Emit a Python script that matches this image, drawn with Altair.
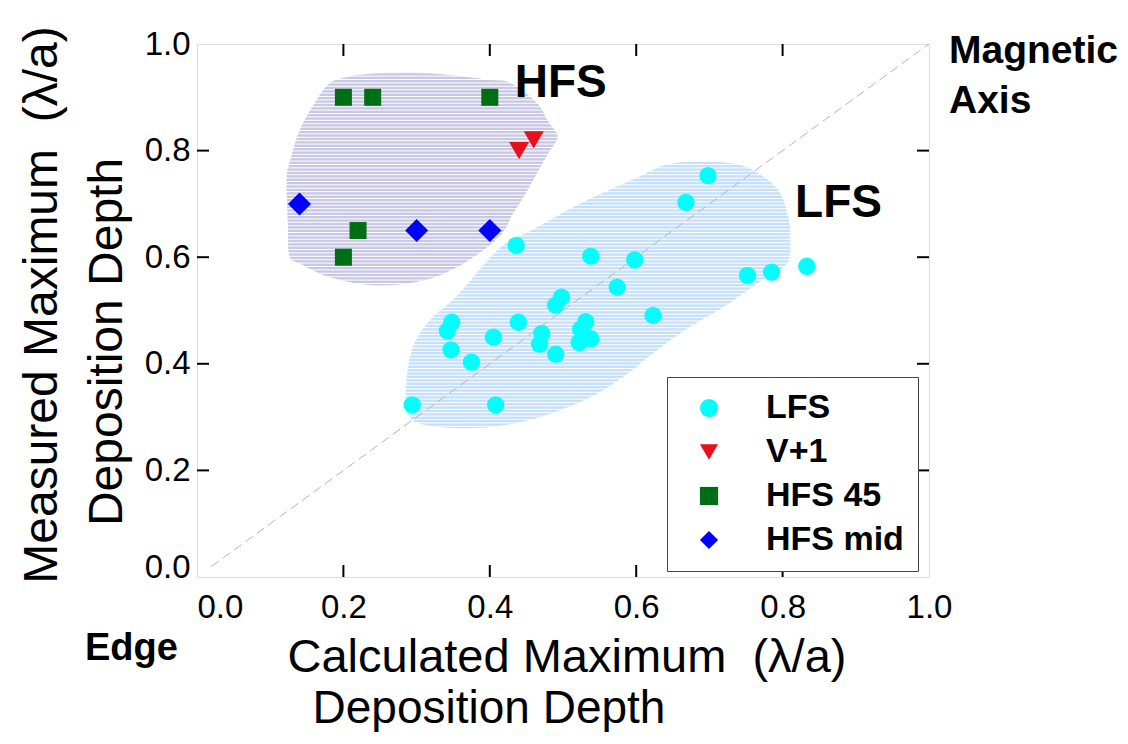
import altair as alt
import pandas as pd

W, H = 732, 533
FONT = "Liberation Sans"

# ---- data series ----
lfs_x = [0.698, 0.668, 0.436, 0.538, 0.598, 0.752, 0.785, 0.833, 0.574, 0.498,
         0.490, 0.623, 0.348, 0.342, 0.439, 0.531, 0.524, 0.405, 0.471, 0.468,
         0.538, 0.522, 0.347, 0.490, 0.375, 0.294, 0.408]
lfs_y = [0.753, 0.703, 0.622, 0.602, 0.595, 0.566, 0.572, 0.583, 0.544, 0.525,
         0.510, 0.491, 0.478, 0.462, 0.478, 0.479, 0.465, 0.450, 0.457, 0.437,
         0.447, 0.440, 0.426, 0.418, 0.403, 0.323, 0.323]
v1_x = [0.44, 0.46]
v1_y = [0.80, 0.82]
hfs45_x = [0.20, 0.24, 0.40, 0.22, 0.20]
hfs45_y = [0.90, 0.90, 0.90, 0.65, 0.60]
hfsmid_x = [0.14, 0.30, 0.40]
hfsmid_y = [0.70, 0.65, 0.65]

series = ["LFS", "V+1", "HFS 45", "HFS mid"]
colors = ["#00ffff", "#e8101c", "#006e14", "#0000ff"]
shapes = ["circle", "triangle-down", "square", "diamond"]
sizes = [300, 400, 289, 529]

# ---- shaded regions (outline in data units) ----
hfs_bx = [0.191, 0.227, 0.300, 0.400, 0.428, 0.464, 0.478, 0.491, 0.491, 0.482,
          0.469, 0.446, 0.430, 0.418, 0.395, 0.355, 0.309, 0.245, 0.182, 0.141,
          0.127, 0.125, 0.123, 0.127, 0.141, 0.164, 0.177]
hfs_by = [0.932, 0.942, 0.946, 0.932, 0.926, 0.889, 0.857, 0.832, 0.820, 0.801,
          0.770, 0.714, 0.680, 0.648, 0.618, 0.582, 0.557, 0.548, 0.563, 0.589,
          0.601, 0.651, 0.745, 0.776, 0.839, 0.895, 0.920]
lfs_bx = [0.650, 0.732, 0.773, 0.796, 0.808, 0.810, 0.808, 0.796, 0.765, 0.719,
          0.673, 0.628, 0.582, 0.537, 0.469, 0.400, 0.332, 0.295, 0.286, 0.289,
          0.300, 0.323, 0.355, 0.414, 0.459, 0.527, 0.596]
lfs_by = [0.775, 0.775, 0.751, 0.720, 0.670, 0.626, 0.595, 0.576, 0.551, 0.507,
          0.470, 0.426, 0.376, 0.338, 0.301, 0.282, 0.282, 0.295, 0.326, 0.395,
          0.445, 0.488, 0.526, 0.617, 0.651, 0.702, 0.745]
hfs_fill = "#c8c8e4"
lfs_fill = "#c6e0f9"

axis_vals = [0.0, 0.2, 0.4, 0.6, 0.8, 1.0]
inner_ticks = [0.2, 0.4, 0.6, 0.8]
diag_x = [0.02, 1.0]
diag_y = [0.02, 1.0]

# region labels (data units)
lab_text = ["HFS", "LFS"]
lab_x = [0.434, 0.817]
lab_y = [0.900, 0.675]

# ---- build tables ----
pts = pd.concat([
    pd.DataFrame({"x": lfs_x, "y": lfs_y, "series": "LFS"}),
    pd.DataFrame({"x": v1_x, "y": v1_y, "series": "V+1"}),
    pd.DataFrame({"x": hfs45_x, "y": hfs45_y, "series": "HFS 45"}),
    pd.DataFrame({"x": hfsmid_x, "y": hfsmid_y, "series": "HFS mid"}),
], ignore_index=True)

xs = alt.Scale(domain=[0, 1], nice=False, zero=False)
ys = alt.Scale(domain=[0, 1], nice=False, zero=False)

x_axis = alt.Axis(values=axis_vals, format=".1f", ticks=False, domain=False, grid=False,
                  title=None, labelFont=FONT, labelFontSize=33, labelColor="black",
                  labelPadding=14, labelOverlap=False,
                  labelAlign={"condition": {"test": "datum.value == 0", "value": "left"},
                              "value": "center"})
y_axis = alt.Axis(values=axis_vals, format=".1f", ticks=False, domain=False, grid=False,
                  title=None, labelFont=FONT, labelFontSize=33, labelColor="black",
                  labelPadding=7, labelOverlap=False,
                  labelBaseline={"condition": {"test": "datum.value == 0", "value": "alphabetic"},
                                 "value": "middle"})


def X(field):
    return alt.X(field, scale=xs, axis=x_axis, title=None)


def Y(field):
    return alt.Y(field, scale=ys, axis=y_axis, title=None)


def blob(bx, by, color):
    df = pd.DataFrame({"x": bx, "y": by, "i": range(len(bx))})
    return alt.Chart(df).mark_line(interpolate="cardinal-closed", color=color, fill=color,
                                   strokeWidth=1).encode(
        x=X("x:Q"), y=Y("y:Q"), order="i:Q")


stripes = alt.Chart(alt.sequence(0.27, 0.955, 3.4 / H, as_="s")).mark_rule(
    color="white", strokeWidth=1).encode(
    y=Y("s:Q"), x=alt.value(0.10 * W), x2=alt.value(0.83 * W))

diag = alt.Chart(pd.DataFrame({"x": diag_x, "y": diag_y})).mark_line(
    color="#b5b5b5", strokeWidth=1, strokeDash=[9, 5]).encode(x=X("x:Q"), y=Y("y:Q"))

legend = alt.Legend(title=None, orient="none", legendX=470, legendY=333,
                    strokeColor="#444", fillColor="white", padding=14, symbolOffset=11,
                    labelFont=FONT, labelFontWeight="bold", labelFontSize=34, labelColor="black",
                    labelOffset=40, symbolSize=330, symbolStrokeWidth=0, rowPadding=10,
                    labelLimit=400)

point_layers = []
for s, sz in zip(series, sizes):
    point_layers.append(
        alt.Chart(pts).transform_filter(alt.datum.series == s).mark_point(
            filled=True, opacity=1, size=sz, strokeWidth=0).encode(
            x=X("x:Q"), y=Y("y:Q"),
            color=alt.Color("series:N", scale=alt.Scale(domain=series, range=colors), legend=legend),
            shape=alt.Shape("series:N", scale=alt.Scale(domain=series, range=shapes), legend=legend),
        ))

tick_df = pd.DataFrame({"t": inner_ticks})
tick_style = dict(color="black", strokeWidth=2)
ticks_bottom = alt.Chart(tick_df).mark_rule(**tick_style).encode(
    x=X("t:Q"), y=alt.value(H), y2=alt.value(H - 12))
ticks_top = alt.Chart(tick_df).mark_rule(**tick_style).encode(
    x=X("t:Q"), y=alt.value(0), y2=alt.value(12))
ticks_left = alt.Chart(tick_df).mark_rule(**tick_style).encode(
    y=Y("t:Q"), x=alt.value(0), x2=alt.value(12))
ticks_right = alt.Chart(tick_df).mark_rule(**tick_style).encode(
    y=Y("t:Q"), x=alt.value(W - 12), x2=alt.value(W))

region_labels = alt.Chart(pd.DataFrame({"t": lab_text, "x": lab_x, "y": lab_y})).mark_text(
    font=FONT, fontWeight="bold", fontSize=46, align="left", baseline="alphabetic",
    color="black").encode(x=X("x:Q"), y=Y("y:Q"), text="t:N")

one = pd.DataFrame({"a": [0]})


def ann(text, px, py, size, weight="normal", align="left", angle=0, line_height=None):
    kw = dict(text=text, font=FONT, fontSize=size, fontWeight=weight, align=align,
              baseline="alphabetic", color="black")
    if angle:
        kw["angle"] = angle
    if line_height:
        kw["lineHeight"] = line_height
    return alt.Chart(one).mark_text(**kw).encode(x=alt.value(px), y=alt.value(py))


annotations = [
    ann("Calculated Maximum\u00a0 (λ/a)", 370, 628, 47, align="center"),
    ann("Deposition Depth", 292, 679, 46, align="center"),
    ann("Measured Maximum\u00a0 (λ/a)", -140, 261, 48, align="center", angle=270),
    ann("Deposition Depth", -75, 298, 48, align="center", angle=270),
    ann(["Magnetic", "Axis"], 752, 19, 39, weight="bold", line_height=50),
    ann("Edge", -112, 616, 38, weight="bold"),
]

chart = alt.layer(
    blob(hfs_bx, hfs_by, hfs_fill),
    blob(lfs_bx, lfs_by, lfs_fill),
    stripes,
    diag,
    *point_layers,
    ticks_bottom, ticks_top, ticks_left, ticks_right,
    region_labels,
    *annotations,
).properties(
    width=W, height=H,
    autosize=alt.AutoSizeParams(type="none"),
    padding={"left": 189, "top": 36, "right": 191, "bottom": 155},
).configure_view(stroke="#333", strokeWidth=1.5).configure(background="white")

chart.save("out.html", embed_options={"renderer": "svg", "actions": False})
